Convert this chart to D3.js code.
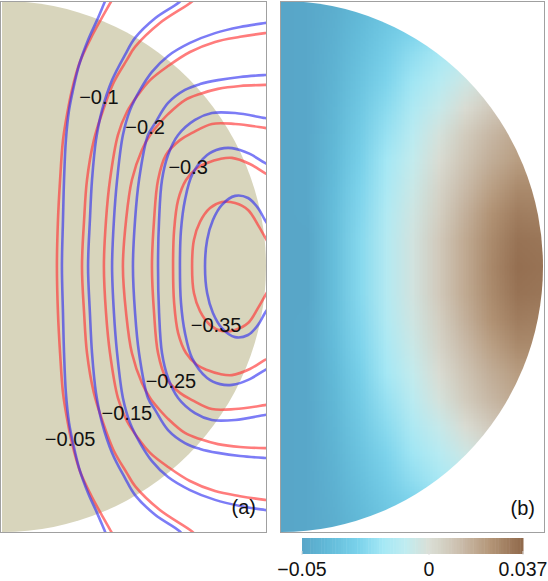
<!DOCTYPE html>
<html>
<head>
<meta charset="utf-8">
<script src="https://cdn.jsdelivr.net/npm/d3@7"></script>
<style>
  body { margin: 0; background: #fff; }
  text { font-family: "Liberation Sans", Arial, sans-serif; fill: #111; }
</style>
</head>
<body>
<div id="chart"></div>
<script>
// contour levels of panel (a), one red and one blue curve per level
const levels = [-0.05, -0.1, -0.15, -0.2, -0.25, -0.3, -0.35];

// upper half of each curve, [x, z] in units of the sphere radius (curves are symmetric in z)
const redCurves = [
  [[0.208,0],[0.212,0.175],[0.220,0.326],[0.231,0.476],[0.246,0.571],[0.265,0.665],[0.295,0.770],[0.337,0.861],[0.375,0.931],[0.413,0.998],[0.425,1.02]],
  [[0.303,0],[0.311,0.175],[0.322,0.326],[0.348,0.476],[0.383,0.589],[0.424,0.695],[0.473,0.778],[0.504,0.827],[0.598,0.917],[0.720,0.998],[0.74,1.02]],
  [[0.386,0],[0.394,0.175],[0.409,0.326],[0.439,0.495],[0.473,0.582],[0.515,0.646],[0.561,0.702],[0.629,0.755],[0.712,0.808],[0.807,0.846],[0.902,0.865],[0.996,0.879],[1.04,0.884]],
  [[0.458,0],[0.470,0.175],[0.492,0.326],[0.530,0.439],[0.561,0.495],[0.591,0.533],[0.629,0.574],[0.693,0.627],[0.750,0.650],[0.818,0.669],[0.902,0.680],[0.996,0.684],[1.04,0.684]],
  [[0.568,0],[0.576,0.175],[0.591,0.326],[0.621,0.420],[0.674,0.476],[0.720,0.503],[0.795,0.537],[0.883,0.537],[0.996,0.522],[1.04,0.515]],
  [[0.648,0],[0.652,0.137],[0.667,0.250],[0.697,0.326],[0.739,0.371],[0.777,0.390],[0.826,0.405],[0.871,0.409],[0.939,0.386],[0.996,0.352],[1.04,0.33]],
  [[0.720,0],[0.727,0.100],[0.750,0.168],[0.788,0.220],[0.833,0.243],[0.883,0.239],[0.932,0.213],[0.970,0.156],[0.996,0.111],[1.02,0.07]]
];
const blueCurves = [
  [[0.227,0],[0.231,0.175],[0.235,0.326],[0.242,0.476],[0.254,0.589],[0.269,0.665],[0.292,0.759],[0.326,0.853],[0.360,0.928],[0.390,0.998],[0.400,1.02]],
  [[0.326,0],[0.333,0.175],[0.341,0.326],[0.356,0.476],[0.379,0.589],[0.417,0.702],[0.466,0.797],[0.504,0.861],[0.580,0.935],[0.674,0.998],[0.69,1.02]],
  [[0.417,0],[0.424,0.175],[0.436,0.326],[0.458,0.495],[0.485,0.589],[0.523,0.665],[0.568,0.733],[0.629,0.793],[0.712,0.842],[0.807,0.879],[0.902,0.902],[0.996,0.917],[1.04,0.923]],
  [[0.496,0],[0.504,0.175],[0.519,0.326],[0.553,0.495],[0.580,0.540],[0.629,0.616],[0.693,0.665],[0.750,0.687],[0.818,0.702],[0.902,0.714],[0.996,0.721],[1.04,0.723]],
  [[0.591,0],[0.595,0.175],[0.606,0.326],[0.629,0.420],[0.667,0.495],[0.731,0.552],[0.795,0.578],[0.883,0.578],[0.996,0.559],[1.04,0.552]],
  [[0.674,0],[0.678,0.137],[0.693,0.250],[0.720,0.345],[0.777,0.420],[0.826,0.443],[0.871,0.446],[0.939,0.424],[0.996,0.390],[1.04,0.37]],
  [[0.769,0],[0.777,0.100],[0.799,0.175],[0.833,0.232],[0.883,0.266],[0.932,0.258],[0.970,0.220],[0.996,0.175],[1.02,0.14]]
];
// where each level's label sits
const labelAt = [[0.258,-0.650],[0.367,0.638],[0.473,-0.552],[0.542,0.525],[0.640,-0.431],[0.705,0.375],[0.811,-0.220]];

// panel (b): field values on a grid, rows = |z| from 0 to 1, columns = x from 0 to 1
const fieldX = [0, 0.1, 0.2, 0.3, 0.4, 0.5, 0.6, 0.7, 0.8, 0.9, 1.0];
const fieldZ = [0, 0.1, 0.2, 0.3, 0.4, 0.5, 0.6, 0.7, 0.8, 0.9, 1.0];
const fieldRows = [
  [-0.050,-0.050,-0.038,-0.025,-0.013,-0.003, 0.008, 0.018, 0.028, 0.035, 0.034],
  [-0.050,-0.050,-0.038,-0.025,-0.013,-0.003, 0.008, 0.018, 0.027, 0.034, 0.033],
  [-0.050,-0.049,-0.038,-0.026,-0.014,-0.004, 0.006, 0.016, 0.025, 0.031, 0.030],
  [-0.050,-0.049,-0.039,-0.027,-0.016,-0.006, 0.004, 0.013, 0.021, 0.027, 0.027],
  [-0.050,-0.049,-0.040,-0.029,-0.018,-0.008, 0.001, 0.010, 0.017, 0.022, 0.022],
  [-0.050,-0.049,-0.041,-0.031,-0.021,-0.011,-0.002, 0.007, 0.014, 0.019, 0.019],
  [-0.050,-0.049,-0.042,-0.033,-0.024,-0.015,-0.007, 0.001, 0.008, 0.012, 0.012],
  [-0.050,-0.049,-0.043,-0.035,-0.027,-0.019,-0.012,-0.005, 0.001, 0.005, 0.005],
  [-0.050,-0.049,-0.044,-0.037,-0.030,-0.023,-0.017,-0.011,-0.006,-0.003,-0.003],
  [-0.050,-0.049,-0.045,-0.039,-0.033,-0.028,-0.023,-0.018,-0.014,-0.011,-0.011],
  [-0.050,-0.049,-0.046,-0.041,-0.036,-0.032,-0.028,-0.024,-0.020,-0.018,-0.018]
];

// colour bar
const barTicks = [-0.05, 0, 0.037];
const barStops = [-0.05, -0.04, -0.028, -0.018, -0.009, 0, 0.011, 0.024, 0.037];
const barColors = ["#58a6c8", "#62bad8", "#7ad2eb", "#a5e8f5", "#c0ecf0", "#dadfd6", "#cdc1b1", "#b49678", "#8f684a"];

const W = 548, H = 581;
const svg = d3.select("#chart").append("svg").attr("width", W).attr("height", H);

const xA = d3.scaleLinear().domain([0, 1]).range([2, 266]);
const yA = d3.scaleLinear().domain([-1, 1]).range([532, 1]);
const xB = d3.scaleLinear().domain([0, 1]).range([281, 543]);
const yB = yA;

const color = d3.scaleLinear().domain(barStops).range(barColors).interpolate(d3.interpolateRgb).clamp(true);

const defs = svg.append("defs");

function halfDisk(x, y) {
  const rx = x(1) - x(0), ry = y(0) - y(1);
  return "M" + x(0) + "," + y(1) + " A" + rx + "," + ry + " 0 0 1 " + x(0) + "," + y(-1) + " Z";
}

// ---------- panel (a) ----------
defs.append("clipPath").attr("id", "clipA")
  .append("rect").attr("x", 1).attr("y", 1.5).attr("width", 265).attr("height", 531);

svg.append("path").attr("d", halfDisk(xA, yA)).attr("fill", "#d8d5bc");

const line = d3.line().x(d => xA(d[0])).y(d => yA(d[1])).curve(d3.curveCatmullRom.alpha(0.5));
const mirror = up => up.slice(1).map(p => [p[0], -p[1]]).reverse().concat(up);

const gA = svg.append("g").attr("clip-path", "url(#clipA)");
levels.forEach((lv, i) => {
  gA.append("path").attr("d", line(mirror(redCurves[i])))
    .attr("fill", "none").attr("stroke", "#ff3535").attr("stroke-opacity", 0.65).attr("stroke-width", 2.6);
  gA.append("path").attr("d", line(mirror(blueCurves[i])))
    .attr("fill", "none").attr("stroke", "#2b2bf0").attr("stroke-opacity", 0.62).attr("stroke-width", 2.6);
});

const fmt = d3.format("");
svg.selectAll(".clab").data(levels).enter().append("text")
  .attr("class", "clab")
  .attr("x", (d, i) => xA(labelAt[i][0]))
  .attr("y", (d, i) => yA(labelAt[i][1]))
  .attr("dy", "0.35em")
  .attr("text-anchor", "middle")
  .style("font-size", "20px")
  .text(d => fmt(d));

svg.append("rect").attr("x", 0.5).attr("y", 1.5).attr("width", 266).attr("height", 531)
  .attr("fill", "none").attr("stroke", "#a0a0a0");
svg.append("text").attr("x", 256).attr("y", 507).attr("dy", "0.35em").attr("text-anchor", "end")
  .style("font-size", "20px").text("(a)");

// ---------- panel (b) ----------
defs.append("clipPath").attr("id", "clipB").append("path").attr("d", halfDisk(xB, yB));

// full grid from top (z = 1) to bottom (z = -1)
const rowsFull = fieldRows.slice(1).reverse().concat(fieldRows);
const nc = fieldX.length, nr = rowsFull.length;
const cv = document.createElement("canvas");
cv.width = nc; cv.height = nr;
const ctx = cv.getContext("2d");
const img = ctx.createImageData(nc, nr);
rowsFull.forEach((row, r) => {
  row.forEach((v, c) => {
    const col = d3.rgb(color(v));
    const k = 4 * (r * nc + c);
    img.data[k] = col.r; img.data[k + 1] = col.g; img.data[k + 2] = col.b; img.data[k + 3] = 255;
  });
});
ctx.putImageData(img, 0, 0);

const cellW = xB(fieldX[1]) - xB(fieldX[0]);
const cellH = yB(0) - yB(fieldZ[1]);
svg.append("g").attr("clip-path", "url(#clipB)")
  .append("image")
  .attr("href", cv.toDataURL())
  .attr("x", xB(0) - cellW / 2)
  .attr("y", yB(1) - cellH / 2)
  .attr("width", nc * cellW)
  .attr("height", nr * cellH)
  .attr("preserveAspectRatio", "none");

svg.append("rect").attr("x", 280.5).attr("y", 1.5).attr("width", 264).attr("height", 531)
  .attr("fill", "none").attr("stroke", "#a0a0a0");
svg.append("text").attr("x", 535).attr("y", 508).attr("dy", "0.35em").attr("text-anchor", "end")
  .style("font-size", "20px").text("(b)");

// ---------- colour bar ----------
const xC = d3.scaleLinear().domain([barTicks[0], barTicks[2]]).range([302, 523]);
const steps = d3.range(0, 80).map(i => barTicks[0] + (barTicks[2] - barTicks[0]) * i / 80);
const stepW = (xC.range()[1] - xC.range()[0]) / 80;
svg.append("g").selectAll("rect").data(steps).enter().append("rect")
  .attr("x", d => xC(d))
  .attr("y", 538)
  .attr("width", stepW + 0.5)
  .attr("height", 16)
  .attr("fill", d => color(d + (barTicks[2] - barTicks[0]) / 160));

svg.append("g").selectAll("line").data(barTicks).enter().append("line")
  .attr("x1", d => xC(d)).attr("x2", d => xC(d))
  .attr("y1", 551).attr("y2", 555)
  .attr("stroke", "#dddddd").attr("stroke-width", 1);

svg.append("g").selectAll("text").data(barTicks).enter().append("text")
  .attr("x", d => xC(d))
  .attr("y", 576)
  .attr("text-anchor", "middle")
  .style("font-size", "19.5px")
  .text(d => fmt(d));
</script>
</body>
</html>
